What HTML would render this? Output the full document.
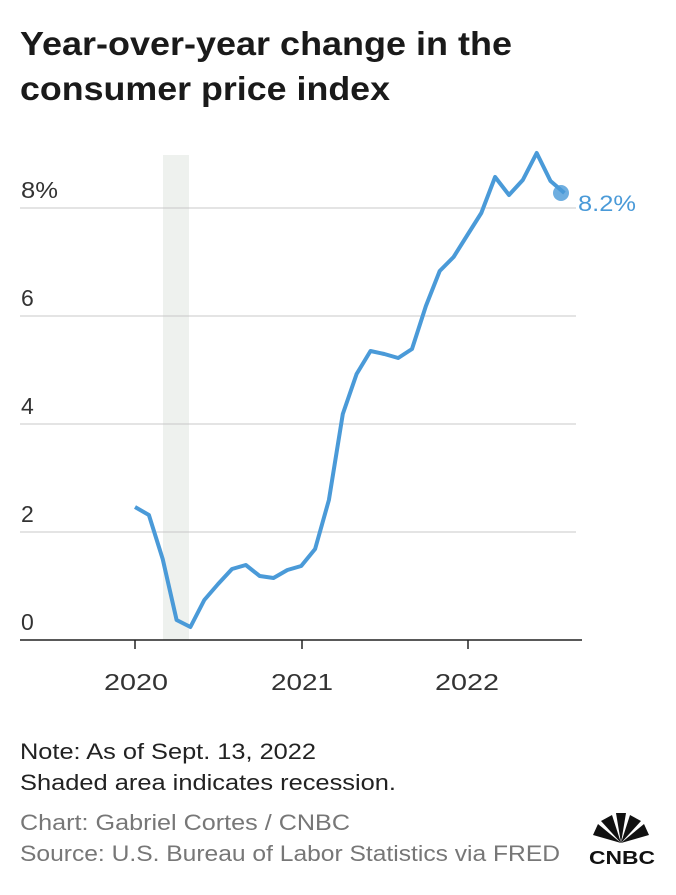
<!DOCTYPE html>
<html><head><meta charset="utf-8"><style>
body{margin:0;background:#fff;width:676px;height:890px;overflow:hidden;font-family:"Liberation Sans",sans-serif;}
</style></head><body>
<svg width="676" height="890" xmlns="http://www.w3.org/2000/svg" font-family="Liberation Sans, sans-serif">
<text x="20" y="55" font-size="33" font-weight="bold" fill="#1a1a1a" textLength="492" lengthAdjust="spacingAndGlyphs">Year-over-year change in the</text>
<text x="20" y="100" font-size="33" font-weight="bold" fill="#1a1a1a" textLength="370" lengthAdjust="spacingAndGlyphs">consumer price index</text>
<rect x="163" y="155" width="26" height="485" fill="#eef1ee"/>
<g stroke="#c8c8c8" stroke-width="1">
<line x1="20" y1="208" x2="576" y2="208"/>
<line x1="20" y1="316" x2="576" y2="316"/>
<line x1="20" y1="424" x2="576" y2="424"/>
<line x1="20" y1="532" x2="576" y2="532"/>
</g>
<g font-size="23" fill="#333">
<text x="21" y="198" textLength="37" lengthAdjust="spacingAndGlyphs">8%</text>
<text x="21" y="306">6</text>
<text x="21" y="414">4</text>
<text x="21" y="522">2</text>
<text x="21" y="630">0</text>
<text x="104" y="690" textLength="64" lengthAdjust="spacingAndGlyphs">2020</text>
<text x="271" y="690" textLength="62" lengthAdjust="spacingAndGlyphs">2021</text>
<text x="435" y="690" textLength="64" lengthAdjust="spacingAndGlyphs">2022</text>
</g>
<polyline fill="none" stroke="#4a9ad8" stroke-width="4" stroke-linejoin="round" points="135,507 148.9,515 162.7,559 176.6,620 190.4,627 204.3,600 218.1,584 232,569 245.8,565 259.7,576 273.5,578 287.4,570 301.2,566 315.1,549 328.9,500 342.8,414 356.6,374 370.5,351 384.3,354 398.2,358 412,349 425.9,306 439.7,271 453.6,257 467.4,235 481.3,213 495.1,177 509,195 522.8,180 536.7,153 550.5,181 564.4,193"/>
<circle cx="561" cy="193" r="8" fill="#4a9ad8" opacity="0.8"/>
<text x="578" y="211" font-size="22" fill="#4a9ad8" textLength="58" lengthAdjust="spacingAndGlyphs">8.2%</text>
<line x1="20" y1="640" x2="582" y2="640" stroke="#222" stroke-width="1.5"/>
<g stroke="#222" stroke-width="1.5">
<line x1="135" y1="640" x2="135" y2="649"/>
<line x1="302" y1="640" x2="302" y2="649"/>
<line x1="468" y1="640" x2="468" y2="649"/>
</g>
<g font-size="22">
<text x="20" y="759" fill="#222" textLength="296" lengthAdjust="spacingAndGlyphs">Note: As of Sept. 13, 2022</text>
<text x="20" y="790" fill="#222" textLength="376" lengthAdjust="spacingAndGlyphs">Shaded area indicates recession.</text>
<text x="20" y="830" fill="#777" textLength="330" lengthAdjust="spacingAndGlyphs">Chart: Gabriel Cortes / CNBC</text>
<text x="20" y="861" fill="#777" textLength="540" lengthAdjust="spacingAndGlyphs">Source: U.S. Bureau of Labor Statistics via FRED</text>
</g>
<g transform="translate(621,843)" fill="#111">
<path d="M0,0 L-28,-8 L-23,-19 Z"/><path d="M0,0 L-20,-22 L-9,-28 Z"/><path d="M0,0 L-5,-30 L5,-30 Z"/>
<path d="M0,0 L9,-28 L20,-22 Z"/><path d="M0,0 L23,-19 L28,-8 Z"/>
</g>
<text x="622" y="864" font-size="18" font-weight="bold" text-anchor="middle" fill="#111" textLength="66" lengthAdjust="spacingAndGlyphs">CNBC</text>
</svg>
</body></html>
